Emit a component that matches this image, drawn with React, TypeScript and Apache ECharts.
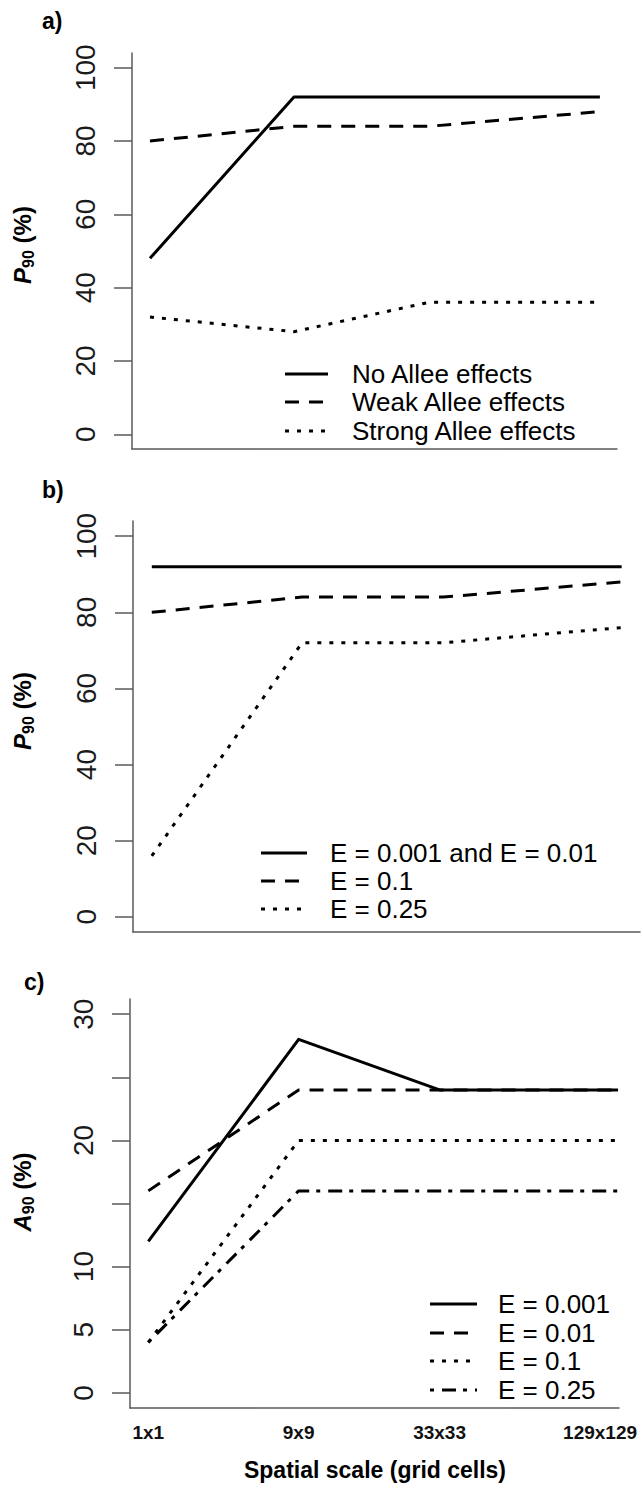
import React, { useEffect, useRef } from "react";
import * as echarts from "echarts";

// Spatial scales (x axis) and their positions along the axis
const scaleNames = ["1x1", "9x9", "33x33", "129x129"];
const scaleCoords = [0, 0.32, 0.62, 1];

// a) P90 by Allee effect strength
const alleeNames = ["No Allee effects", "Weak Allee effects", "Strong Allee effects"];
const p90NoAllee = [48, 92, 92, 92];
const p90WeakAllee = [80, 84, 84, 88];
const p90StrongAllee = [32, 28, 36, 36];

// b) P90 by extinction rate E
const extNamesB = ["E = 0.001 and E = 0.01", "E = 0.1", "E = 0.25"];
const p90ELow = [92, 92, 92, 92];
const p90E01 = [80, 84, 84, 88];
const p90E025 = [16, 72, 72, 76];

// c) A90 by extinction rate E
const extNamesC = ["E = 0.001", "E = 0.01", "E = 0.1", "E = 0.25"];
const a90E0001 = [12, 28, 24, 24];
const a90E001 = [16, 24, 24, 24];
const a90E01 = [4, 20, 20, 20];
const a90E025 = [4, 16, 16, 16];

// Axis ticks
const pTicks = [0, 20, 40, 60, 80, 100];
const aTicks = [0, 5, 10, 15, 20, 25, 30];
const aTickLabels = [0, 5, 10, 20, 30];

const FONT = "'Liberation Sans', Arial, Helvetica, sans-serif";
const AXIS_GRAY = "#5a5a5a";

const DASH: Record<string, any> = {
  solid: "solid",
  dashed: [14, 10],
  dotted: [4, 8],
  dashdot: [4, 8, 14, 7],
};

type Panel = {
  grid: { left: number; top: number; width: number; height: number };
  xMin: number;
  xMax: number;
  yMin: number;
  yMax: number;
  ticks: number[];
  labels: number[];
  series: { name: string; values: number[]; dash: string }[];
  legend: { x1: number; x2: number; textX: number; rows: number[] };
  ySymbol: string;
  yTitleAt: number;
  tag: { text: string; x: number; y: number };
  showX: boolean;
};

const panels: Panel[] = [
  {
    grid: { left: 132, top: 53, width: 485, height: 396 },
    xMin: -0.04,
    xMax: 1.038,
    yMin: -4,
    yMax: 104,
    ticks: pTicks,
    labels: pTicks,
    series: [
      { name: alleeNames[0], values: p90NoAllee, dash: "solid" },
      { name: alleeNames[1], values: p90WeakAllee, dash: "dashed" },
      { name: alleeNames[2], values: p90StrongAllee, dash: "dotted" },
    ],
    legend: { x1: 285, x2: 328, textX: 352, rows: [374, 402, 431] },
    ySymbol: "P",
    yTitleAt: 245,
    tag: { text: "a)", x: 42, y: 21 },
    showX: false,
  },
  {
    grid: { left: 133, top: 521, width: 507, height: 411 },
    xMin: -0.04,
    xMax: 1.039,
    yMin: -4,
    yMax: 104,
    ticks: pTicks,
    labels: pTicks,
    series: [
      { name: extNamesB[0], values: p90ELow, dash: "solid" },
      { name: extNamesB[1], values: p90E01, dash: "dashed" },
      { name: extNamesB[2], values: p90E025, dash: "dotted" },
    ],
    legend: { x1: 261, x2: 307, textX: 330, rows: [853, 881, 909] },
    ySymbol: "P",
    yTitleAt: 711,
    tag: { text: "b)", x: 42, y: 490 },
    showX: false,
  },
  {
    grid: { left: 130, top: 999, width: 489, height: 409 },
    xMin: -0.039,
    xMax: 1.002,
    yMin: -1.2,
    yMax: 31.2,
    ticks: aTicks,
    labels: aTickLabels,
    series: [
      { name: extNamesC[0], values: a90E0001, dash: "solid" },
      { name: extNamesC[1], values: a90E001, dash: "dashed" },
      { name: extNamesC[2], values: a90E01, dash: "dotted" },
      { name: extNamesC[3], values: a90E025, dash: "dashdot" },
    ],
    legend: { x1: 430, x2: 477, textX: 498, rows: [1304, 1333, 1361, 1390] },
    ySymbol: "A",
    yTitleAt: 1192,
    tag: { text: "c)", x: 24, y: 982 },
    showX: true,
  },
];

function scaleLabel(v: number): string {
  const i = scaleCoords.findIndex((c) => Math.abs(c - v) < 1e-6);
  if (i < 0) return "";
  return i === scaleCoords.length - 1 ? `{last|${scaleNames[i]}}` : scaleNames[i];
}

function buildOption() {
  const grid: any[] = [];
  const xAxis: any[] = [];
  const yAxis: any[] = [];
  const series: any[] = [];
  const graphic: any[] = [];

  panels.forEach((p, idx) => {
    grid.push({ ...p.grid, containLabel: false });
    xAxis.push({
      type: "value",
      gridIndex: idx,
      min: p.xMin,
      max: p.xMax,
      splitLine: { show: false },
      axisLine: { show: true, onZero: false, lineStyle: { color: AXIS_GRAY, width: 1.5 } },
      axisTick: { show: false },
      axisLabel: p.showX
        ? {
            show: true,
            customValues: scaleCoords,
            formatter: scaleLabel,
            fontFamily: FONT,
            fontSize: 19,
            fontWeight: "bold",
            color: "#111",
            margin: 15,
            rich: {
              last: {
                fontFamily: FONT,
                fontSize: 19,
                fontWeight: "bold",
                color: "#111",
                padding: [0, 36, 0, 0],
              },
            },
          }
        : { show: false },
    });
    yAxis.push({
      type: "value",
      gridIndex: idx,
      min: p.yMin,
      max: p.yMax,
      splitLine: { show: false },
      axisLine: { show: true, onZero: false, lineStyle: { color: AXIS_GRAY, width: 1.5 } },
      axisTick: {
        show: true,
        customValues: p.ticks,
        length: 18,
        lineStyle: { color: AXIS_GRAY, width: 1.5 },
      },
      axisLabel: {
        show: true,
        customValues: p.labels,
        rotate: 90,
        fontFamily: FONT,
        fontSize: 28,
        color: "#1a1a1a",
        margin: 33,
      },
    });

    p.series.forEach((s) => {
      series.push({
        type: "line",
        name: s.name,
        xAxisIndex: idx,
        yAxisIndex: idx,
        data: scaleCoords.map((x, i) => [x, s.values[i]]),
        showSymbol: false,
        symbol: "none",
        lineStyle: { color: "#000", width: 3, type: DASH[s.dash], cap: "butt", join: "round" },
        silent: true,
      });
    });

    // Legend box: line samples with their labels
    p.series.forEach((s, r) => {
      const y = p.legend.rows[r];
      graphic.push({
        type: "line",
        shape: { x1: p.legend.x1, y1: y, x2: p.legend.x2, y2: y },
        style: {
          stroke: "#000",
          lineWidth: 3,
          lineDash: s.dash === "solid" ? null : DASH[s.dash],
        },
        silent: true,
      });
      graphic.push({
        type: "text",
        x: p.legend.textX,
        y: y,
        style: {
          text: s.name,
          fill: "#000",
          font: `26px ${FONT}`,
          align: "left",
          verticalAlign: "middle",
          textAlign: "left",
          textVerticalAlign: "middle",
        },
        silent: true,
      });
    });

    // Y-axis title with subscript
    graphic.push({
      type: "text",
      x: 22,
      y: p.yTitleAt,
      rotation: Math.PI / 2,
      style: {
        text: `{sym|${p.ySymbol}}{sub|90}{rest| (%)}`,
        align: "center",
        verticalAlign: "middle",
        textAlign: "center",
        textVerticalAlign: "middle",
        rich: {
          sym: {
            fontFamily: FONT,
            fontSize: 24,
            fontWeight: "bold",
            fontStyle: "italic",
            lineHeight: 28,
            fill: "#000",
          },
          sub: {
            fontFamily: FONT,
            fontSize: 16,
            fontWeight: "bold",
            lineHeight: 16,
            verticalAlign: "bottom",
            fill: "#000",
          },
          rest: {
            fontFamily: FONT,
            fontSize: 24,
            fontWeight: "bold",
            lineHeight: 28,
            fill: "#000",
          },
        },
      },
      silent: true,
    });

    // Panel tag
    graphic.push({
      type: "text",
      x: p.tag.x,
      y: p.tag.y,
      style: {
        text: p.tag.text,
        fill: "#000",
        font: `bold 23px ${FONT}`,
        align: "left",
        verticalAlign: "middle",
        textAlign: "left",
        textVerticalAlign: "middle",
      },
      silent: true,
    });
  });

  // X-axis title
  graphic.push({
    type: "text",
    x: 375,
    y: 1470,
    style: {
      text: "Spatial scale (grid cells)",
      fill: "#000",
      font: `bold 23px ${FONT}`,
      align: "center",
      verticalAlign: "middle",
      textAlign: "center",
      textVerticalAlign: "middle",
    },
    silent: true,
  });

  return {
    animation: false,
    backgroundColor: "#ffffff",
    grid,
    xAxis,
    yAxis,
    series,
    graphic,
  };
}

export default function App() {
  const ref = useRef<HTMLDivElement>(null);

  useEffect(() => {
    if (!ref.current) return;
    const chart = echarts.init(ref.current, undefined, { renderer: "svg" });
    chart.setOption(buildOption() as any);
    return () => chart.dispose();
  }, []);

  return (
    <div
      ref={ref}
      style={{ position: "absolute", left: 0, top: 0, width: 643, height: 1488, background: "#fff" }}
    />
  );
}
